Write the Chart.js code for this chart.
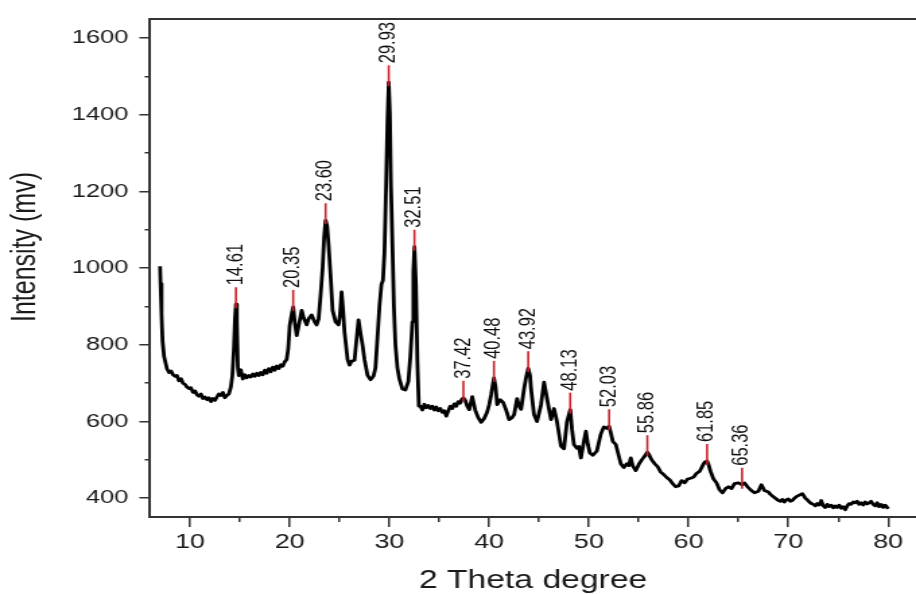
<!DOCTYPE html>
<html>
<head>
<meta charset="utf-8">
<script src="https://cdn.jsdelivr.net/npm/chart.js@4.4.0/dist/chart.umd.min.js"></script>
<style>
  html, body { margin: 0; padding: 0; background: #fff; }
</style>
</head>
<body>
<!-- the source picture is stretched sideways, so the canvas is drawn narrow and widened by its inline style -->
<canvas id="xrd" width="680" height="594" style="display:block;width:916px;height:594px"></canvas>
<script>
// 2 theta (degree) and intensity (mv), 20 points a row
var twoTheta = [
  7.0, 7.05, 7.15, 7.25, 7.4, 7.7, 7.9, 8.1, 8.3, 8.5, 8.7, 8.9, 9.1, 9.3, 9.5, 9.7, 9.9, 10.1, 10.3, 10.5,
  10.7, 10.9, 11.1, 11.3, 11.5, 11.7, 11.9, 12.1, 12.3, 12.5, 12.7, 12.9, 13.1, 13.3, 13.5, 13.7, 13.9, 14.1, 14.25, 14.4,
  14.52, 14.61, 14.7, 14.8, 14.9, 15.1, 15.3, 15.5, 15.7, 15.9, 16.1, 16.3, 16.5, 16.7, 16.9, 17.1, 17.3, 17.5, 17.7, 17.9,
  18.1, 18.3, 18.5, 18.7, 18.9, 19.1, 19.3, 19.5, 19.7, 19.85, 20.0, 20.2, 20.35, 20.5, 20.7, 20.9, 21.2, 21.4, 21.7, 21.9,
  22.2, 22.5, 22.7, 22.9, 23.1, 23.3, 23.45, 23.6, 23.75, 23.9, 24.1, 24.3, 24.6, 24.9, 25.05, 25.2, 25.35, 25.5, 25.8, 26.0,
  26.2, 26.5, 26.7, 26.9, 27.1, 27.3, 27.5, 27.8, 28.1, 28.4, 28.6, 28.8, 29.0, 29.2, 29.35, 29.5, 29.65, 29.8, 29.93, 30.05,
  30.15, 30.3, 30.45, 30.6, 30.8, 31.0, 31.3, 31.6, 31.9, 32.1, 32.3, 32.4, 32.51, 32.65, 32.8, 32.95, 33.1, 33.3, 33.5, 33.7,
  33.9, 34.1, 34.3, 34.5, 34.7, 34.9, 35.1, 35.3, 35.5, 35.7, 35.9, 36.1, 36.3, 36.5, 36.7, 36.9, 37.1, 37.25, 37.42, 37.6,
  37.8, 38.0, 38.3, 38.6, 38.9, 39.2, 39.5, 39.8, 40.0, 40.2, 40.48, 40.65, 40.8, 41.1, 41.4, 41.7, 42.0, 42.3, 42.5, 42.8,
  43.0, 43.2, 43.5, 43.7, 43.92, 44.1, 44.2, 44.5, 44.8, 45.2, 45.5, 45.8, 46.2, 46.5, 46.8, 47.2, 47.5, 47.8, 48.13, 48.3,
  48.5, 48.8, 49.0, 49.2, 49.5, 49.7, 49.9, 50.1, 50.4, 50.8, 51.2, 51.5, 51.8, 52.03, 52.2, 52.4, 52.7, 52.9, 53.2, 53.5,
  53.8, 54.0, 54.2, 54.4, 54.7, 55.0, 55.3, 55.6, 55.86, 56.0, 56.3, 56.6, 56.9, 57.2, 57.5, 57.8, 58.1, 58.4, 58.7, 59.0,
  59.3, 59.6, 59.9, 60.2, 60.5, 60.8, 61.1, 61.4, 61.6, 61.85, 62.0, 62.2, 62.5, 62.8, 63.1, 63.4, 63.7, 64.0, 64.3, 64.6,
  65.0, 65.36, 65.6, 65.9, 66.2, 66.6, 67.0, 67.3, 67.6, 68.0, 68.2, 68.4, 68.6, 68.8, 69.0, 69.2, 69.4, 69.6, 69.8, 70.0,
  70.2, 70.4, 70.6, 70.8, 71.1, 71.4, 71.7, 71.9, 72.1, 72.3, 72.5, 72.7, 72.9, 73.1, 73.3, 73.5, 73.7, 73.9, 74.1, 74.3,
  74.5, 74.7, 74.9, 75.1, 75.3, 75.5, 75.7, 75.9, 76.1, 76.3, 76.5, 76.7, 76.9, 77.1, 77.3, 77.5, 77.7, 77.9, 78.1, 78.3,
  78.5, 78.7, 78.9, 79.1, 79.3, 79.5, 79.7, 79.85, 80.0
];
var intensity = [
  1005, 960, 880, 810, 770, 737, 728, 732, 722, 718, 720, 706, 712, 700, 697, 690, 686, 688, 676, 680,
  670, 666, 672, 660, 664, 657, 662, 652, 660, 655, 664, 672, 668, 676, 662, 668, 672, 690, 720, 790,
  870, 906, 860, 740, 720, 735, 711, 722, 714, 720, 716, 724, 718, 726, 720, 728, 722, 734, 726, 738,
  730, 742, 734, 745, 738, 748, 744, 756, 762, 790, 850, 880, 899, 860, 824, 850, 890, 870, 852, 868,
  878, 860, 852, 868, 930, 1000, 1080, 1125, 1110, 1060, 980, 890, 860, 852, 880, 938, 890, 832, 762, 747,
  757, 760, 814, 865, 830, 800, 762, 721, 709, 718, 740, 820, 901, 958, 968, 1040, 1200, 1380, 1485, 1400,
  1220, 1060, 900, 800, 740, 711, 685, 682, 705, 770, 860, 990, 1056, 960, 760, 640, 640, 630, 645, 636,
  642, 634, 640, 630, 638, 628, 634, 624, 628, 614, 628, 640, 634, 646, 640, 652, 648, 658, 662, 655,
  640, 631, 665, 630, 610, 598, 608, 625, 644, 670, 714, 690, 644, 657, 650, 630, 605, 610, 618, 660,
  640, 632, 685, 715, 739, 720, 685, 618, 600, 644, 703, 660, 605, 634, 600, 536, 529, 600, 631, 580,
  540, 530, 535, 505, 549, 575, 540, 518, 512, 523, 568, 586, 582, 588, 570, 548, 540, 520, 490, 480,
  490, 485, 505, 484, 472, 488, 500, 510, 520, 515, 500, 490, 482, 468, 462, 454, 448, 438, 430, 432,
  446, 440, 450, 452, 455, 465, 470, 485, 494, 497, 488, 470, 450, 440, 422, 414, 425, 430, 425, 438,
  440, 435, 440, 430, 422, 414, 418, 435, 420, 416, 410, 406, 402, 398, 394, 392, 397, 390, 396, 398,
  392, 394, 400, 404, 408, 412, 400, 396, 390, 386, 384, 380, 386, 382, 394, 380, 376, 384, 378, 382,
  375, 380, 376, 382, 374, 378, 370, 380, 386, 384, 390, 388, 392, 384, 388, 382, 390, 385, 388, 392,
  384, 380, 388, 378, 384, 376, 382, 378, 372
];

// labelled peaks
var peakTheta = [14.61, 20.35, 23.60, 29.93, 32.51, 37.42, 40.48, 43.92, 48.13, 52.03, 55.86, 61.85, 65.36];
var peakIntensity = [906, 899, 1125, 1485, 1056, 662, 714, 739, 631, 588, 520, 497, 435];
var peakLabels = ['14.61', '20.35', '23.60', '29.93', '32.51', '37.42', '40.48', '43.92', '48.13', '52.03', '55.86', '61.85', '65.36'];

// axes
var xTicks = [10, 20, 30, 40, 50, 60, 70, 80];
var xMinorTicks = [15, 25, 35, 45, 55, 65, 75];
var yTicks = [400, 600, 800, 1000, 1200, 1400, 1600];
var yMinorTicks = [500, 700, 900, 1100, 1300, 1500];
var xMin = 6, xMax = 82.8, yMin = 351, yMax = 1649;

var fontFamily = '"Liberation Sans", Arial, sans-serif';
var inkColor = '#1a1a1a';
var axisColor = '#333';

var points = twoTheta.map(function (t, i) { return { x: t, y: intensity[i] }; });

function setTicks(list) {
    return function (scale) {
        scale.ticks = list.map(function (v) { return { value: v }; });
    };
}

function plainLabel(value) {
    return String(value);
}

// red markers, peak values and the y axis title
var peakMarks = {
    id: 'peakMarks',
    afterDatasetsDraw: function (chart) {
        var ctx = chart.ctx;
        var xs = chart.scales.x, ys = chart.scales.y;
        peakTheta.forEach(function (t, i) {
            var px = xs.getPixelForValue(t);
            var py = ys.getPixelForValue(peakIntensity[i]);
            ctx.save();
            ctx.strokeStyle = '#c8202a';
            ctx.lineWidth = 1.6;
            ctx.beginPath();
            ctx.moveTo(px, py + 4);
            ctx.lineTo(px, py - 17);
            ctx.stroke();
            ctx.translate(px, py - 19);
            ctx.rotate(-Math.PI / 2);
            ctx.fillStyle = '#111';
            ctx.font = '16.5px ' + fontFamily;
            ctx.textAlign = 'left';
            ctx.textBaseline = 'middle';
            ctx.fillText(peakLabels[i], 0, 0);
            ctx.restore();
        });
    },
    afterDraw: function (chart) {
        var ctx = chart.ctx;
        ctx.save();
        ctx.translate(26, 247);
        ctx.rotate(-Math.PI / 2);
        ctx.fillStyle = inkColor;
        ctx.font = '25px ' + fontFamily;
        ctx.textAlign = 'center';
        ctx.textBaseline = 'alphabetic';
        ctx.fillText('Intensity (mv)', 0, 0);
        ctx.restore();
    }
};

var chartData = {
    datasets: [{
        data: points,
        xAxisID: 'x',
        yAxisID: 'y',
        borderColor: '#000',
        borderWidth: 2.8,
        borderJoinStyle: 'round',
        pointRadius: 0,
        tension: 0,
        fill: false
    }]
};

var chartOptions = {
    responsive: false,
    animation: false,
    events: [],
    layout: { padding: { top: 12, left: 0, right: 0, bottom: 0 } },
    plugins: { legend: { display: false }, tooltip: { enabled: false } },
    scales: {
        x: {
            type: 'linear', position: 'bottom', weight: 1, min: xMin, max: xMax,
            afterBuildTicks: setTicks(xTicks),
            afterFit: function (s) { s.height = 77; },
            grid: { display: true, drawOnChartArea: false, drawTicks: true, tickLength: 10, color: axisColor, lineWidth: 1.5 },
            border: { display: true, color: axisColor, width: 2 },
            ticks: { color: inkColor, font: { family: fontFamily, size: 20 }, padding: 3, maxRotation: 0, callback: plainLabel },
            title: { display: true, text: '2 Theta degree', color: inkColor, font: { family: fontFamily, size: 25 }, padding: { top: 0, bottom: -2 } }
        },
        xMinor: {
            type: 'linear', position: 'bottom', weight: 0, min: xMin, max: xMax,
            afterBuildTicks: setTicks(xMinorTicks),
            afterFit: function (s) { s.height = 0; },
            grid: { display: true, drawOnChartArea: false, drawTicks: true, tickLength: 5, color: axisColor, lineWidth: 1.5 },
            border: { display: false },
            ticks: { display: false }
        },
        x2: {
            type: 'linear', position: 'top', min: xMin, max: xMax,
            afterFit: function (s) { s.height = 0; },
            grid: { display: false },
            border: { display: true, color: axisColor, width: 2 },
            ticks: { display: false }
        },
        y: {
            type: 'linear', position: 'left', weight: 1, min: yMin, max: yMax,
            afterBuildTicks: setTicks(yTicks),
            afterFit: function (s) { s.width = 111.4; },
            grid: { display: true, drawOnChartArea: false, drawTicks: true, tickLength: 8, color: axisColor, lineWidth: 1.5 },
            border: { display: true, color: axisColor, width: 2 },
            ticks: { color: inkColor, font: { family: fontFamily, size: 19 }, padding: 8, callback: plainLabel }
        },
        yMinor: {
            type: 'linear', position: 'left', weight: 0, min: yMin, max: yMax,
            afterBuildTicks: setTicks(yMinorTicks),
            afterFit: function (s) { s.width = 0; },
            grid: { display: true, drawOnChartArea: false, drawTicks: true, tickLength: 4, color: axisColor, lineWidth: 1.5 },
            border: { display: false },
            ticks: { display: false }
        }
    }
};

var chart = new Chart(document.getElementById('xrd').getContext('2d'), {
    type: 'line',
    data: chartData,
    options: chartOptions,
    plugins: [peakMarks]
});
</script>
</body>
</html>
